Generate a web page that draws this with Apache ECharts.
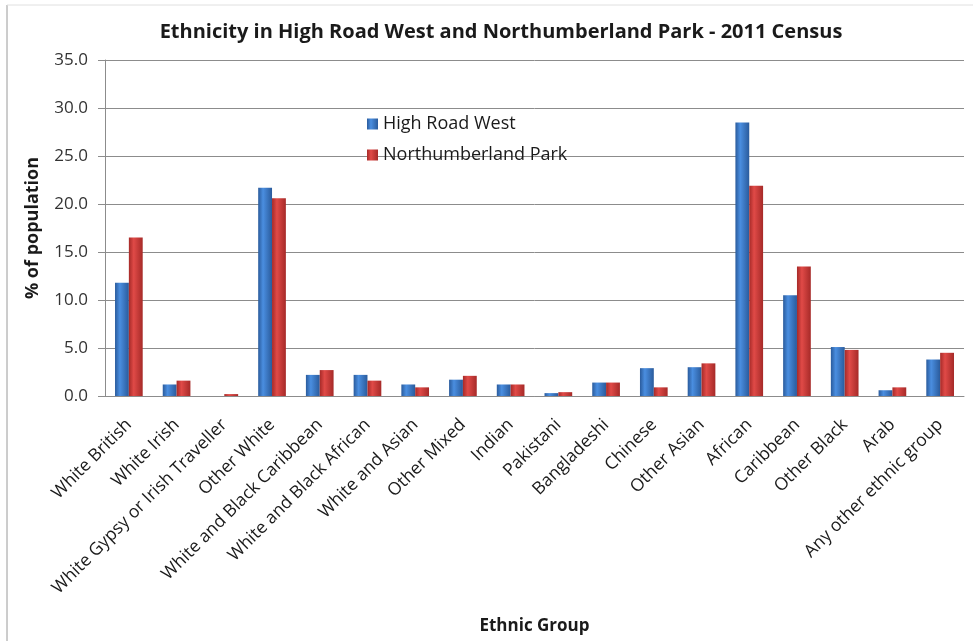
<!DOCTYPE html>
<html><head><meta charset="utf-8">
<script src="https://cdn.jsdelivr.net/npm/echarts@6/dist/echarts.min.js"></script>
<style>html,body{margin:0;padding:0;background:#fff}#c{width:973px;height:641px}</style>
</head><body><div id="c"></div>
<script>
const categories = ["White British","White Irish","White Gypsy or Irish Traveller","Other White","White and Black Caribbean","White and Black African","White and Asian","Other Mixed","Indian","Pakistani","Bangladeshi","Chinese","Other Asian","African","Caribbean","Other Black","Arab","Any other ethnic group"];
const highRoadWest = [11.8,1.2,0.0,21.7,2.2,2.2,1.2,1.7,1.2,0.3,1.4,2.9,3.0,28.5,10.5,5.1,0.6,3.8];
const northumberlandPark = [16.5,1.6,0.2,20.6,2.7,1.6,0.9,2.1,1.2,0.4,1.4,0.9,3.4,21.9,13.5,4.8,0.9,4.5];
const seriesNames = ["High Road West","Northumberland Park"];

const font = "'Open Sans', 'Noto Sans', sans-serif";
function grad(dark, light){
  return new echarts.graphic.LinearGradient(0,0,1,0,[
    {offset:0,color:dark},{offset:0.35,color:light},{offset:1,color:dark}]);
}
const chart = echarts.init(document.getElementById('c'));
chart.setOption({
  animation:false,
  backgroundColor:'#fff',
  title:{text:'Ethnicity in High Road West and Northumberland Park - 2011 Census',left:496,textAlign:'center',top:17,
    textStyle:{fontFamily:font,fontWeight:'bold',fontSize:20,color:'#1a1a1a'}},
  legend:{orient:'vertical',left:362,top:110,itemGap:13,itemWidth:11,itemHeight:11,
    icon:'rect',textStyle:{fontFamily:font,fontSize:18,color:'#1a1a1a'},
    data:seriesNames},
  grid:{left:105,right:9,top:60,bottom:245,outerBoundsMode:'none',containLabel:false},
  xAxis:{type:'category',data:categories,
    axisLine:{lineStyle:{color:'#8c8c8c'}},axisTick:{show:false},
    axisLabel:{rotate:45,interval:0,fontFamily:font,fontSize:17.5,color:'#1a1a1a',margin:26},
    name:'Ethnic Group',nameLocation:'middle',nameGap:222,
    nameTextStyle:{fontFamily:font,fontWeight:'bold',fontSize:17,color:'#1a1a1a'}},
  yAxis:{type:'value',min:0,max:35,interval:5,
    axisLine:{show:true,lineStyle:{color:'#8c8c8c'}},axisTick:{show:true,length:7,lineStyle:{color:'#8c8c8c'}},
    splitLine:{lineStyle:{color:'#8c8c8c',width:1}},
    axisLabel:{formatter:v=>v.toFixed(1),fontFamily:font,fontSize:17,color:'#333',margin:17},
    name:'% of population',nameLocation:'middle',nameGap:63,nameRotate:90,
    nameTextStyle:{fontFamily:font,fontWeight:'bold',fontSize:18,color:'#1a1a1a'}},
  series:[
    {name:seriesNames[0],type:'bar',data:highRoadWest,barGap:'0%',barCategoryGap:'42%',
      itemStyle:{color:grad('#2a5b9c','#4a8ee0')}},
    {name:seriesNames[1],type:'bar',data:northumberlandPark,barGap:'0%',barCategoryGap:'42%',
      itemStyle:{color:grad('#a62a28','#e04a47')}}
  ],
  graphic:[
    {type:'line',shape:{x1:7,y1:5,x2:7,y2:641},style:{stroke:'#9a9a9a',lineWidth:1}},
    {type:'line',shape:{x1:7,y1:5,x2:973,y2:5},style:{stroke:'#e0e0e0',lineWidth:1}}
  ]
});
</script></body></html>
